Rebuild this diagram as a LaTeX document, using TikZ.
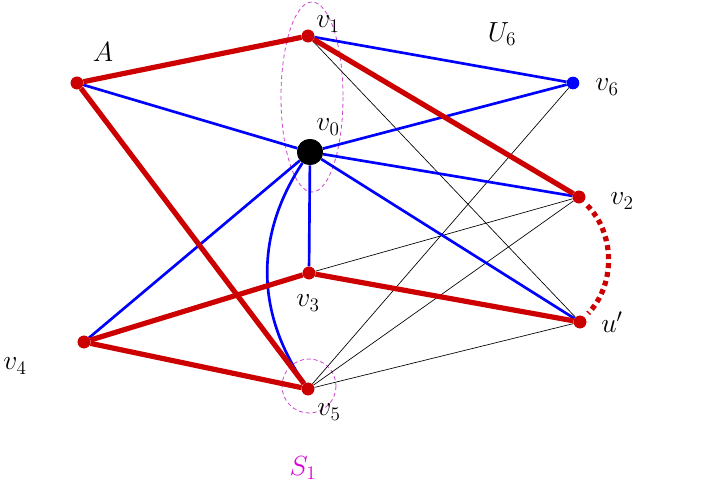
\documentclass[tikz,border=0pt]{standalone}
\usepackage{tikz}
\usetikzlibrary{calc,positioning}
\definecolor{pathred}{RGB}{204,0,0}
\definecolor{setpink}{RGB}{205,70,205}
\definecolor{setlabel}{RGB}{220,0,220}
\tikzset{
  vdot/.style={circle, fill=pathred, inner sep=0pt, minimum size=9.5pt},
  bdot/.style={vdot, fill=blue},
  hub/.style={vdot, fill=black, minimum size=19.5pt},
  lbl/.style={inner sep=1pt, font=\fontsize{21}{24}\selectfont},
  redge/.style={draw=pathred, line width=3.9pt},
  bedge/.style={draw=blue, line width=2pt},
  tedge/.style={draw=black, line width=0.5pt},
  setline/.style={draw=setpink, dashed, dash pattern=on 3pt off 2.2pt, line width=0.6pt}
}
\begin{document}
\begin{tikzpicture}[x=0.75pt, y=-0.75pt]
  \useasboundingbox (0,0) rectangle (708,489);

  % vertices
  \node[vdot] (A)  at (77,83)   {};
  \node[vdot] (v1) at (308,36)  {};
  \node[bdot] (v6) at (573,83)  {};
  \node[hub]  (v0) at (310,152) {};
  \node[vdot] (v2) at (579,197) {};
  \node[vdot] (v3) at (309,273) {};
  \node[vdot] (up) at (580,322) {};
  \node[vdot] (v4) at (84,342)  {};
  \node[vdot] (v5) at (308,389) {};

  % dashed sets
  \draw[setline] (312,97) ellipse [x radius=31, y radius=95];
  \draw[setline] (309,386) ellipse [x radius=27, y radius=27];

  % thin edges
  \draw[tedge] (v1) -- (up);
  \draw[tedge] (v6) -- (v5);
  \draw[tedge] (v2) -- (v3);
  \draw[tedge] (v2) -- (v5);
  \draw[tedge] (up) -- (v5);

  % blue edges
  \draw[bedge] (v1) -- (v6);
  \draw[bedge] (A) -- (v0);
  \draw[bedge] (v0) -- (v6);
  \draw[bedge] (v0) -- (v2);
  \draw[bedge] (v0) -- (up);
  \draw[bedge] (v0) -- (v3);
  \draw[bedge] (v0) -- (v4);
  \draw[bedge] (v0) to[bend right=34] (v5);

  % red path
  \draw[redge] (A) -- (v1);
  \draw[redge] (A) -- (v5);
  \draw[redge] (v1) -- (v2);
  \draw[redge] (v4) -- (v3);
  \draw[redge] (v4) -- (v5);
  \draw[redge] (v3) -- (up);
  \draw[redge, dash pattern=on 3.75pt off 3pt, shorten <=4pt, shorten >=4pt]
    (v2) to[bend left=44] (up);

  % redraw dots on top
  \foreach \v in {A,v1,v2,v3,up,v4,v5}
    \fill[pathred] (\v) circle [radius=4.75pt];
  \fill[blue] (v6) circle [radius=4.5pt];
  \fill[black] (v0) circle [radius=9.75pt];

  % labels
  \node[lbl] (lA)  at (103,52)  {$A$};
  \node[lbl] (lv1) at (328,24)  {$v_1$};
  \node[lbl] (lU6) at (502,34)  {$U_6$};
  \node[lbl] (lv6) at (607,87)  {$v_6$};
  \node[lbl] (lv0) at (328,127) {$v_0$};
  \node[lbl] (lv2) at (622,201) {$v_2$};
  \node[lbl] (lv3) at (308,303) {$v_3$};
  \node[lbl] (lup) at (612,322) {$u'$};
  \node[lbl] (lv4) at (15,366)  {$v_4$};
  \node[lbl] (lv5) at (329,412) {$v_5$};
  \node[lbl, text=setlabel] (lS1) at (303,468) {$S_1$};
\end{tikzpicture}
\end{document}
